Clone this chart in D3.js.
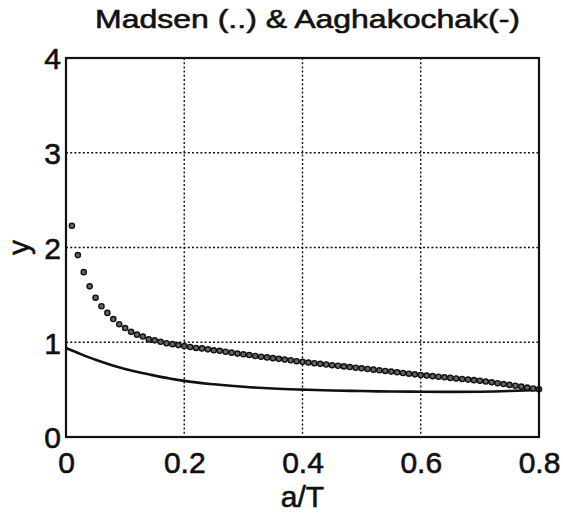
<!DOCTYPE html>
<html><head><meta charset="utf-8">
<script src="https://cdn.jsdelivr.net/npm/d3@7"></script>
<style>body{margin:0;background:#fff}svg{display:block}text{font-family:"Liberation Sans",Arial,sans-serif;fill:#111;stroke:#111;stroke-width:0.6px}</style>
</head><body>
<script>
const titleText = "Madsen (..) & Aaghakochak(-)";
const xLabel = "a/T";
const yLabel = "y";
const xTicks = [0, 0.2, 0.4, 0.6, 0.8];
const yTicks = [0, 1, 2, 3, 4];

// Madsen (dotted markers), x = 0.01 .. 0.80
const madsenX = d3.range(1, 81).map(i => i / 100);
const madsenY = [
  2.23, 1.92, 1.74, 1.59, 1.47, 1.38, 1.31, 1.245, 1.19, 1.15,
  1.11, 1.08, 1.06, 1.03, 1.02, 1.005, 0.99, 0.98, 0.97, 0.96,
  0.95, 0.94, 0.935, 0.925, 0.915, 0.91, 0.90, 0.89, 0.88, 0.873,
  0.865, 0.855, 0.847, 0.84, 0.832, 0.825, 0.817, 0.81, 0.80, 0.793,
  0.786, 0.779, 0.772, 0.765, 0.758, 0.752, 0.745, 0.738, 0.731, 0.725,
  0.718, 0.711, 0.704, 0.697, 0.69, 0.683, 0.676, 0.668, 0.661, 0.654,
  0.648, 0.642, 0.636, 0.630, 0.624, 0.618, 0.612, 0.606, 0.600, 0.594,
  0.585, 0.577, 0.568, 0.559, 0.55, 0.541, 0.532, 0.522, 0.512, 0.503
];

// Aaghakochak (solid line)
const aaghX = [0, 0.025, 0.05, 0.075, 0.1, 0.125, 0.15, 0.175, 0.2, 0.25, 0.3, 0.35, 0.4, 0.45, 0.5, 0.55, 0.6, 0.65, 0.7, 0.75, 0.8];
const aaghY = [0.94, 0.875, 0.815, 0.763, 0.718, 0.68, 0.648, 0.618, 0.592, 0.556, 0.53, 0.512, 0.50, 0.49, 0.485, 0.48, 0.478, 0.476, 0.478, 0.485, 0.497];

const W = 563, H = 517;
const L = 66, R = 539, T = 58, B = 437;

const svg = d3.select("body").append("svg").attr("width", W).attr("height", H);
const x = d3.scaleLinear().domain([0, 0.8]).range([L, R]);
const y = d3.scaleLinear().domain([0, 4]).range([B, T]);

// grid
const grid = svg.append("g").attr("stroke", "#111").attr("stroke-width", 1.4).attr("stroke-dasharray", "2,2.2");
grid.selectAll(".gx").data(xTicks.slice(1, -1)).join("line")
  .attr("x1", d => x(d)).attr("x2", d => x(d)).attr("y1", T).attr("y2", B);
grid.selectAll(".gy").data(yTicks.slice(1, -1)).join("line")
  .attr("y1", d => y(d)).attr("y2", d => y(d)).attr("x1", L).attr("x2", R);

// axes
const xa = svg.append("g").attr("transform", `translate(0,${B})`)
  .call(d3.axisBottom(x).tickValues(xTicks).tickSize(0).tickFormat(d => d === 0 ? "0" : d3.format(".1f")(d)));
xa.select(".domain").remove();
xa.selectAll("text").attr("y", 36).attr("dy", 0).style("font-size", "30px").attr("fill", "#111");

const ya = svg.append("g").attr("transform", `translate(${L},0)`)
  .call(d3.axisLeft(y).tickValues(yTicks).tickSize(0).tickPadding(5).tickFormat(d3.format("d")));
ya.select(".domain").remove();
ya.selectAll("text").attr("dy", "0.36em").style("font-size", "30px").attr("fill", "#111");

// solid line
svg.append("path")
  .datum(aaghX.map((d, i) => [d, aaghY[i]]))
  .attr("fill", "none").attr("stroke", "#111").attr("stroke-width", 2.6)
  .attr("d", d3.line().x(d => x(d[0])).y(d => y(d[1])).curve(d3.curveMonotoneX));

// dots
svg.append("g").selectAll("circle")
  .data(madsenX.map((d, i) => [d, madsenY[i]]))
  .join("circle")
  .attr("cx", d => x(d[0])).attr("cy", d => y(d[1])).attr("r", 2.6)
  .attr("fill", "#666").attr("stroke", "#111").attr("stroke-width", 1.4);

// frame
svg.append("rect").attr("x", L).attr("y", T).attr("width", R - L).attr("height", B - T)
  .attr("fill", "none").attr("stroke", "#111").attr("stroke-width", 2.2);

// title
svg.append("text").attr("x", (95 + 520) / 2).attr("y", 28).attr("text-anchor", "middle")
  .style("font-size", "26px")
  .attr("textLength", 425).attr("lengthAdjust", "spacingAndGlyphs")
  .text(titleText);

// axis labels
svg.append("text").attr("x", (L + R) / 2).attr("y", 507).attr("text-anchor", "middle")
  .style("font-size", "30px").text(xLabel);
svg.append("text").attr("transform", `translate(29,${(T + B) / 2}) rotate(-90)`).attr("text-anchor", "middle")
  .style("font-size", "30px").text(yLabel);
</script>
</body></html>
